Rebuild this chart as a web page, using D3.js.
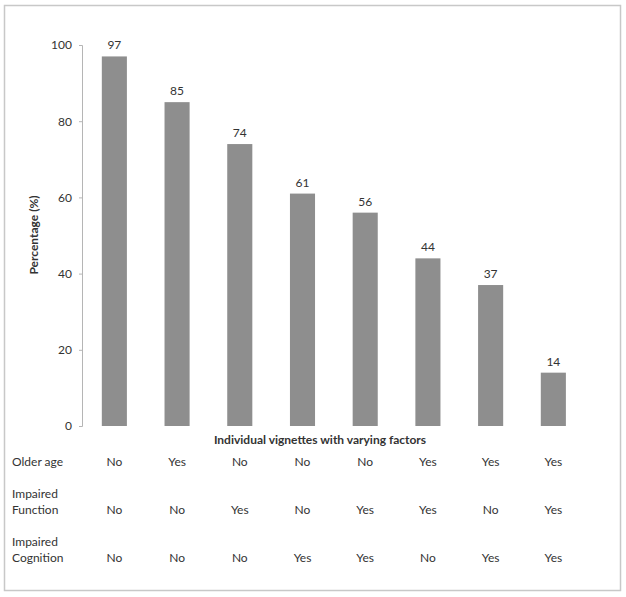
<!DOCTYPE html>
<html><head><meta charset="utf-8">
<script src="https://cdn.jsdelivr.net/npm/d3@7"></script>
<style>body{margin:0;background:#fff}svg{display:block}text{font-family:Lato,"Open Sans",sans-serif;fill:#333}</style>
</head><body>
<script>
const vignettes = ["V1","V2","V3","V4","V5","V6","V7","V8"];
const percentages = [97,85,74,61,56,44,37,14];
const yTicks = [0,20,40,60,80,100];
const olderAge = ["No","Yes","No","No","No","Yes","Yes","Yes"];
const impairedFunction = ["No","No","Yes","No","Yes","Yes","No","Yes"];
const impairedCognition = ["No","No","No","Yes","Yes","No","Yes","Yes"];
const rowLabels = [["Older age"],["Impaired","Function"],["Impaired","Cognition"]];

const W=626,H=597;
const svg=d3.select("body").append("svg").attr("width",W).attr("height",H);
svg.append("rect").attr("x",4.5).attr("y",5.5).attr("width",616).attr("height",585)
  .attr("fill","#fff").attr("stroke","#c8c8c8").attr("stroke-width",1.5);

const x=d3.scaleBand().domain(vignettes).range([83,584.7]).paddingInner(0.6).paddingOuter(0.3);
const y=d3.scaleLinear().domain([0,100]).range([426,45]);

const yAxis=svg.append("g").attr("transform","translate(82,0)")
  .call(d3.axisLeft(y).tickValues(yTicks).tickSize(3).tickPadding(7));
yAxis.select(".domain").attr("stroke","#b5b5b5");
yAxis.selectAll(".tick line").attr("stroke","#b5b5b5");
yAxis.selectAll(".tick text").attr("font-size",12).attr("fill","#333").style("font-family","Lato,sans-serif");

svg.selectAll("rect.bar").data(percentages).join("rect").attr("class","bar")
  .attr("x",(d,i)=>x(vignettes[i])).attr("width",x.bandwidth())
  .attr("y",d=>y(d)).attr("height",d=>y(0)-y(d)).attr("fill","#8e8e8e");

svg.selectAll("text.val").data(percentages).join("text").attr("class","val")
  .attr("x",(d,i)=>x(vignettes[i])+x.bandwidth()/2).attr("y",d=>y(d)-7)
  .attr("text-anchor","middle").attr("font-size",12).text(d=>d);

svg.append("text").attr("transform","translate(38,235) rotate(-90)")
  .attr("text-anchor","middle").attr("font-size",12).attr("font-weight","bold").text("Percentage (%)");

svg.append("text").attr("x",320).attr("y",444).attr("text-anchor","middle")
  .attr("font-size",12).attr("font-weight","bold").text("Individual vignettes with varying factors");

const rows=[olderAge,impairedFunction,impairedCognition];
const rowY=[466,514,562];
rowLabels.forEach((lines,r)=>{
  lines.forEach((t,k)=>{
    svg.append("text").attr("x",12).attr("y",rowY[r]-(lines.length-1-k)*16)
      .attr("font-size",12).text(t);
  });
  svg.selectAll("text.r"+r).data(rows[r]).join("text").attr("class","r"+r)
    .attr("x",(d,i)=>x(vignettes[i])+x.bandwidth()/2).attr("y",rowY[r])
    .attr("text-anchor","middle").attr("font-size",12).text(d=>d);
});
</script>
</body></html>
